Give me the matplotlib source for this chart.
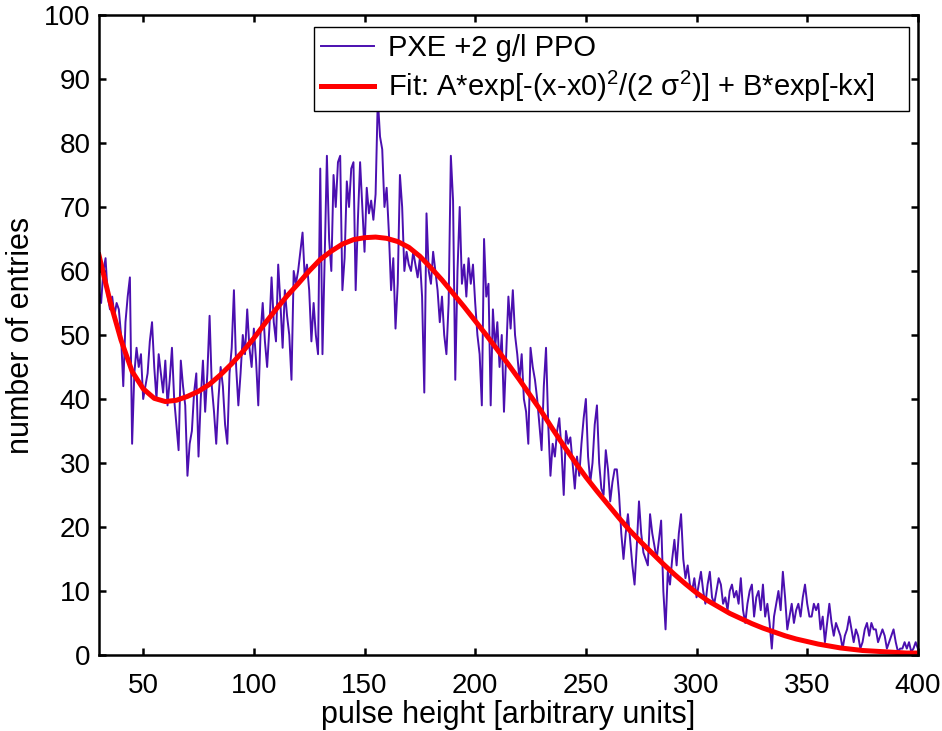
import matplotlib
matplotlib.use('Agg')
import matplotlib.pyplot as plt
import numpy as np

plt.rcParams['font.family'] = ['Liberation Sans', 'DejaVu Sans']
plt.rcParams['mathtext.fontset'] = 'custom'
plt.rcParams['mathtext.rm'] = 'Liberation Sans'
plt.rcParams['mathtext.it'] = 'Liberation Sans:italic'
plt.rcParams['mathtext.default'] = 'regular'

# measured spectrum, one entry per unit of pulse height from 30 to 400
pulse_height = np.arange(30, 401)
entries = [
    57, 55, 60, 62, 56, 54, 56, 53, 55, 54,   # 30-39
    50, 42, 52, 56, 59, 33, 44, 48, 45, 47,   # 40-49
    40, 42, 44, 49, 52, 45, 40, 47, 44, 41,   # 50-59
    46, 39, 43, 48, 40, 36, 32, 46, 42, 39,   # 60-69
    28, 33, 35, 41, 44, 31, 40, 46, 38, 44,   # 70-79
    53, 42, 38, 33, 40, 45, 42, 36, 33, 44,   # 80-89
    48, 57, 45, 39, 44, 50, 47, 54, 48, 45,   # 90-99
    51, 46, 39, 50, 55, 49, 45, 51, 59, 52,   # 100-109
    49, 61, 55, 48, 57, 53, 50, 43, 60, 58,   # 110-119
    60, 63, 66, 59, 61, 57, 49, 55, 50, 47,   # 120-129
    76, 47, 62, 78, 65, 60, 75, 70, 77, 78,   # 130-139
    57, 62, 74, 70, 76, 77, 57, 68, 77, 70,   # 140-149
    63, 73, 69, 71, 68, 72, 87, 81, 79, 70,   # 150-159
    73, 66, 57, 62, 51, 58, 75, 70, 60, 63,   # 160-169
    61, 60, 63, 61, 59, 62, 56, 41, 69, 60,   # 170-179
    58, 63, 60, 57, 52, 56, 50, 47, 55, 78,   # 180-189
    71, 43, 60, 70, 58, 61, 56, 62, 58, 61,   # 190-199
    55, 50, 47, 39, 65, 56, 58, 39, 54, 48,   # 200-209
    52, 45, 50, 38, 47, 56, 51, 57, 50, 47,   # 210-219
    43, 47, 40, 38, 33, 48, 45, 43, 40, 36,   # 220-229
    32, 42, 48, 36, 28, 33, 31, 35, 37, 32,   # 230-239
    25, 35, 33, 34, 30, 26, 31, 28, 33, 37,   # 240-249
    40, 31, 27, 30, 36, 39, 30, 26, 25, 32,   # 250-259
    29, 24, 27, 29, 29, 25, 19, 15, 19, 22,   # 260-269
    18, 14, 11, 17, 24, 19, 16, 15, 14, 22,   # 270-279
    19, 17, 15, 18, 21, 10, 4, 13, 11, 15,    # 280-289
    18, 14, 19, 22, 15, 12, 14, 11, 10, 12,   # 290-299
    9, 11, 13, 10, 8, 11, 13, 9, 8, 10,       # 300-309
    12, 11, 8, 9, 7, 10, 11, 9, 10, 8,        # 310-319
    12, 7, 5, 8, 10, 11, 6, 9, 10, 7,         # 320-329
    11, 6, 8, 5, 1, 6, 8, 10, 7, 13,          # 330-339
    9, 4, 6, 8, 5, 7, 8, 6, 9, 11,            # 340-349
    8, 6, 6, 8, 7, 8, 4, 6, 2, 5,             # 350-359
    8, 5, 3, 5, 4, 3, 1, 3, 4, 6,             # 360-369
    4, 2, 4, 3, 1, 2, 4, 5, 3, 5,             # 370-379
    4, 4, 2, 3, 4, 3, 1, 2, 3, 4,             # 380-389
    2, 0.5, 1, 1, 2, 1, 2, 0.5, 1, 2,         # 390-399
    1,                                        # 400
]

fit_x = np.arange(30, 401, 5)
fit_y = [
    62.5, 55.3, 49.2, 44.3, 41.6, 40.1, 39.6, 39.8, 40.4, 41.2,
    42.3, 43.8, 45.5, 47.4, 49.5, 51.8, 54.0, 56.1, 58.0, 60.0,
    61.8, 63.1, 64.2, 64.9, 65.2, 65.3, 65.1, 64.6, 63.7, 62.3,
    60.5, 58.6, 56.5, 54.4, 52.2, 50.0, 47.7, 45.4, 43.0, 40.5,
    38.0, 35.3, 32.7, 30.2, 27.8, 25.6, 23.5, 21.4, 19.4, 17.6,
    15.9, 14.2, 12.6, 11.1, 9.7, 8.5, 7.5, 6.5, 5.7, 4.9,
    4.2, 3.6, 3.0, 2.5, 2.1, 1.7, 1.4, 1.1, 0.9, 0.7,
    0.6, 0.5, 0.4, 0.3, 0.3,
]

fig = plt.figure(figsize=(9.42, 7.31), dpi=100)
ax = fig.add_axes([0.105, 0.104, 0.8694, 0.8755])

ax.plot(pulse_height, entries, color='#4B0FB0', lw=1.4, label='PXE +2 g/l PPO')
ax.plot(fit_x, fit_y, color='#FF0000', lw=3.6,
        label=r'Fit: A*exp[-(x-x0)$^2$/(2 $\sigma^2$)] + B*exp[-kx]')

ax.set_xlim(30, 400)
ax.set_ylim(0, 100)
ax.set_xticks(np.arange(50, 401, 50))
ax.set_yticks(np.arange(0, 101, 10))
ax.tick_params(direction='in', length=5, width=1.8, top=True, right=True,
               labelsize=20, pad=6)
ax.tick_params(axis='x', pad=13)
for s in ax.spines.values():
    s.set_linewidth(1.8)

ax.set_xlabel('pulse height [arbitrary units]', fontsize=22)
ax.set_ylabel('number of entries', fontsize=22)
ax.xaxis.set_label_coords(0.5, -0.07)
ax.yaxis.set_label_coords(-0.077, 0.5)

# legend box spans from ~x=78 to the right edge, like the original
leg = ax.legend(loc='upper left', bbox_to_anchor=(0.2625, 0.8, 0.7265, 0.181),
                mode='expand', fontsize=21, fancybox=False,
                edgecolor='black', framealpha=1, handlelength=1.8,
                handletextpad=0.5, borderaxespad=0, borderpad=0.25,
                labelspacing=0.22)
leg.get_frame().set_linewidth(1.0)

fig.savefig('out.png', dpi=100)
